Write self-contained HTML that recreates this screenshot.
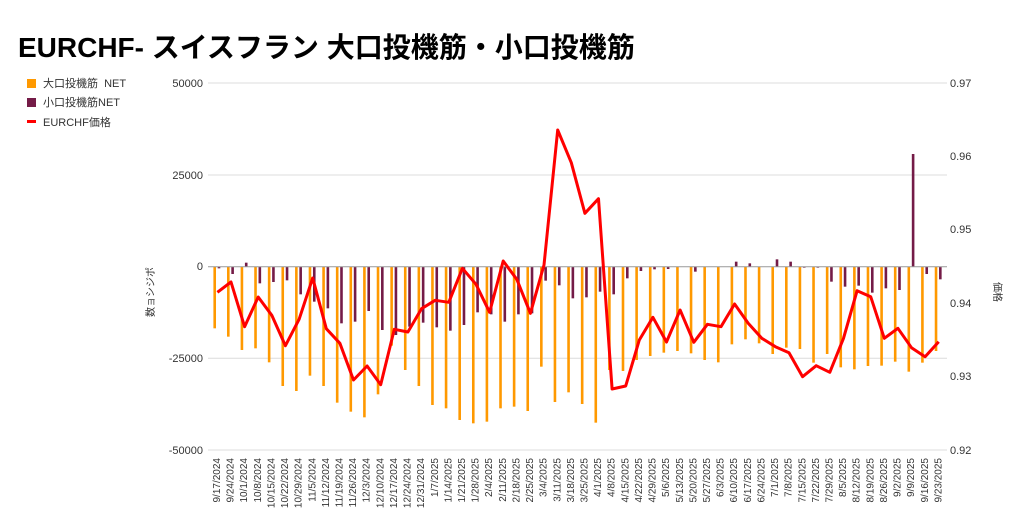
<!DOCTYPE html>
<html><head><meta charset="utf-8"><style>
html,body{margin:0;padding:0;background:#fff;}
body{width:1024px;height:532px;overflow:hidden;position:relative;font-family:"Liberation Sans","Noto Sans CJK JP",sans-serif;}
.t{position:absolute;left:18px;top:26px;font-size:28px;font-weight:bold;color:#000;white-space:nowrap;}
svg{position:absolute;left:0;top:0;}
</style></head><body>
<div class="t">EURCHF- スイスフラン 大口投機筋・小口投機筋</div>
<svg width="1024" height="532" id="s" font-family="Liberation Sans, Noto Sans CJK JP, sans-serif">
<g stroke="#dcdcdc" stroke-width="1">
<line x1="208" y1="83" x2="947" y2="83"/><line x1="208" y1="175" x2="947" y2="175"/>
<line x1="208" y1="358.3" x2="947" y2="358.3"/><line x1="208" y1="450" x2="947" y2="450"/>
</g>
<g font-size="11" fill="#333" text-anchor="end">
<text x="203" y="87">50000</text><text x="203" y="179">25000</text><text x="203" y="270">0</text>
<text x="203" y="362">-25000</text><text x="203" y="454">-50000</text>
</g>
<g font-size="11" fill="#333">
<text x="950" y="87">0.97</text><text x="950" y="160">0.96</text><text x="950" y="233">0.95</text>
<text x="950" y="307">0.94</text><text x="950" y="380">0.93</text><text x="950" y="454">0.92</text>
</g>
<text font-size="10" fill="#333" transform="translate(154,292) rotate(-90)" text-anchor="middle">数ョシジポ</text>
<text font-size="10" fill="#333" transform="translate(994,292) rotate(90)" text-anchor="middle">価格</text>
<rect x="27" y="79" width="9" height="9" fill="#ff9900"/>
<text x="43" y="87" font-size="11" fill="#333">大口投機筋&#160;&#160;NET</text>
<rect x="27" y="98" width="9" height="9" fill="#741b47"/>
<text x="43" y="106" font-size="11" fill="#333">小口投機筋NET</text>
<rect x="27" y="120" width="9" height="3" fill="#ff0000"/>
<text x="43" y="126" font-size="11" fill="#333">EURCHF価格</text>
<g id="bars"></g>
<line x1="208" y1="266.7" x2="947" y2="266.7" stroke="#999" stroke-width="1"/>
<polyline id="ln" fill="none" stroke="#ff0000" stroke-width="3" stroke-linejoin="round"/>
<g font-size="10" fill="#333" text-anchor="end" id="xl">
<text transform="translate(220,458) rotate(-90)">9/17/2024</text>
<text transform="translate(233.6,458) rotate(-90)">9/24/2024</text>
<text transform="translate(247.2,458) rotate(-90)">10/1/2024</text>
<text transform="translate(260.8,458) rotate(-90)">10/8/2024</text>
<text transform="translate(274.4,458) rotate(-90)">10/15/2024</text>
<text transform="translate(288,458) rotate(-90)">10/22/2024</text>
<text transform="translate(301.7,458) rotate(-90)">10/29/2024</text>
<text transform="translate(315.3,458) rotate(-90)">11/5/2024</text>
<text transform="translate(328.9,458) rotate(-90)">11/12/2024</text>
<text transform="translate(342.5,458) rotate(-90)">11/19/2024</text>
<text transform="translate(356.1,458) rotate(-90)">11/26/2024</text>
<text transform="translate(369.7,458) rotate(-90)">12/3/2024</text>
<text transform="translate(383.3,458) rotate(-90)">12/10/2024</text>
<text transform="translate(396.9,458) rotate(-90)">12/17/2024</text>
<text transform="translate(410.5,458) rotate(-90)">12/24/2024</text>
<text transform="translate(424.2,458) rotate(-90)">12/31/2024</text>
<text transform="translate(437.8,458) rotate(-90)">1/7/2025</text>
<text transform="translate(451.4,458) rotate(-90)">1/14/2025</text>
<text transform="translate(465,458) rotate(-90)">1/21/2025</text>
<text transform="translate(478.6,458) rotate(-90)">1/28/2025</text>
<text transform="translate(492.2,458) rotate(-90)">2/4/2025</text>
<text transform="translate(505.8,458) rotate(-90)">2/11/2025</text>
<text transform="translate(519.4,458) rotate(-90)">2/18/2025</text>
<text transform="translate(533,458) rotate(-90)">2/25/2025</text>
<text transform="translate(546.6,458) rotate(-90)">3/4/2025</text>
<text transform="translate(560.3,458) rotate(-90)">3/11/2025</text>
<text transform="translate(573.9,458) rotate(-90)">3/18/2025</text>
<text transform="translate(587.5,458) rotate(-90)">3/25/2025</text>
<text transform="translate(601.1,458) rotate(-90)">4/1/2025</text>
<text transform="translate(614.7,458) rotate(-90)">4/8/2025</text>
<text transform="translate(628.3,458) rotate(-90)">4/15/2025</text>
<text transform="translate(641.9,458) rotate(-90)">4/22/2025</text>
<text transform="translate(655.5,458) rotate(-90)">4/29/2025</text>
<text transform="translate(669.1,458) rotate(-90)">5/6/2025</text>
<text transform="translate(682.8,458) rotate(-90)">5/13/2025</text>
<text transform="translate(696.4,458) rotate(-90)">5/20/2025</text>
<text transform="translate(710,458) rotate(-90)">5/27/2025</text>
<text transform="translate(723.6,458) rotate(-90)">6/3/2025</text>
<text transform="translate(737.2,458) rotate(-90)">6/10/2025</text>
<text transform="translate(750.8,458) rotate(-90)">6/17/2025</text>
<text transform="translate(764.4,458) rotate(-90)">6/24/2025</text>
<text transform="translate(778,458) rotate(-90)">7/1/2025</text>
<text transform="translate(791.6,458) rotate(-90)">7/8/2025</text>
<text transform="translate(805.3,458) rotate(-90)">7/15/2025</text>
<text transform="translate(818.9,458) rotate(-90)">7/22/2025</text>
<text transform="translate(832.5,458) rotate(-90)">7/29/2025</text>
<text transform="translate(846.1,458) rotate(-90)">8/5/2025</text>
<text transform="translate(859.7,458) rotate(-90)">8/12/2025</text>
<text transform="translate(873.3,458) rotate(-90)">8/19/2025</text>
<text transform="translate(886.9,458) rotate(-90)">8/26/2025</text>
<text transform="translate(900.5,458) rotate(-90)">9/2/2025</text>
<text transform="translate(914.1,458) rotate(-90)">9/9/2025</text>
<text transform="translate(927.8,458) rotate(-90)">9/16/2025</text>
<text transform="translate(941.4,458) rotate(-90)">9/23/2025</text>
</g>
</svg>
<script>
var O=[745,770,810,805,847,918,933,887,918,968,995,1012,943,797,870,918,975,985,1020,1030,1025,985,980,993,860,966,937,972,1028,870,873,840,828,818,813,820,840,847,793,778,790,822,803,807,848,822,862,868,858,857,845,875,848,813];
var P=[565,582,548,610,606,601,643,665,685,730,725,693,750,765,740,728,742,752,735,697,703,725,703,700,602,616,655,652,635,643,595,573,568,567,560,575,560,560,545,550,560,538,545,563,563,605,620,617,638,625,630,222,582,598];
var L=[637,606,740,651,706,797,718,594,746,790,900,858,914,748,756,686,661,667,565,613,697,543,598,700,555,150,248,400,356,927,918,780,712,786,690,787,733,740,672,730,775,800,818,890,857,877,775,632,650,775,745,803,830,785];
var ns="http://www.w3.org/2000/svg",g=document.getElementById('bars'),pts=[];
function R(x,v,c){var y=80+v/3,b=266.7,r=document.createElementNS(ns,'rect');r.setAttribute('x',x-1.3);r.setAttribute('width',2.6);r.setAttribute('y',Math.min(y,b));r.setAttribute('height',Math.abs(y-b));r.setAttribute('fill',c);g.appendChild(r);}
for(var i=0;i<54;i++){var x=214.7+13.61*i;R(x,O[i],'#ff9900');R(x+4.3,P[i],'#741b47');pts.push((x+2.7).toFixed(1)+','+(80+L[i]/3).toFixed(1));}
document.getElementById('ln').setAttribute('points',pts.join(' '));
</script>
</body></html>
